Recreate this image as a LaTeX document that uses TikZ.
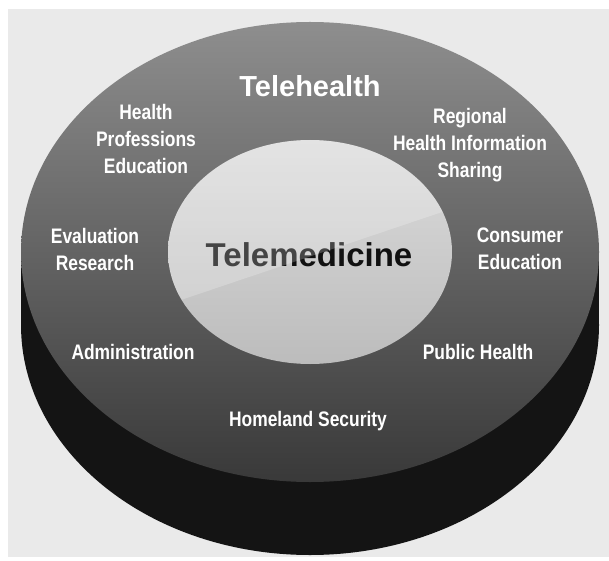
\documentclass[tikz,border=0pt]{standalone}
\usepackage{fontspec}
\setmainfont{Liberation Sans}
\newfontfamily\narrowsans[FakeStretch=0.83]{Liberation Sans}
\definecolor{paper}{HTML}{EAEAEA}
\definecolor{rimtop}{HTML}{8E8E8E}
\definecolor{rimmid}{HTML}{565656}
\definecolor{rimbot}{HTML}{393939}
\definecolor{side}{HTML}{141414}
\definecolor{coretop}{HTML}{DCDCDC}
\definecolor{corebot}{HTML}{BCBCBC}
\definecolor{ink}{HTML}{111111}

\begin{document}
\begin{tikzpicture}[x=1pt,y=1pt,
    ringlabel/.style={text=white,align=center,
      font=\narrowsans\bfseries\fontsize{21}{27}\selectfont}]
  \useasboundingbox (0,0) rectangle (609,560);
  \fill[paper] (8,3) rectangle (609,551);

  % side of the disc
  \fill[side] (310,235) ellipse [x radius=289,y radius=230];
  \fill[side] (21,235) rectangle (599,308);
  % top of the disc
  \shade[top color=rimtop,middle color=rimmid,bottom color=rimbot]
    (310,308) ellipse [x radius=289,y radius=230];

  % core
  \shade[top color=coretop,bottom color=corebot]
    (310,308) ellipse [x radius=142,y radius=112];
  \node[text=ink,font=\bfseries\fontsize{33}{33}\selectfont] (telemed) at (309,305)
    {Telemedicine};
  \begin{scope}
    \clip (310,308) ellipse [x radius=142,y radius=112];
    \fill[white,opacity=0.22] (160,253) -- (460,354) -- (460,430) -- (160,430) -- cycle;
  \end{scope}

  \node[text=white,font=\bfseries\fontsize{29}{29}\selectfont] (telehealth) at (310,474)
    {Telehealth};
  \node[ringlabel] (hpe) at (146,421) {Health\\Professions\\Education};
  \node[ringlabel] (rhis) at (470,415) {Regional\\Health Information\\Sharing};
  \node[ringlabel] (evalres) at (95,311) {Evaluation\\Research};
  \node[ringlabel] (consumer) at (520,311) {Consumer\\Education};
  \node[ringlabel] (admin) at (133,208) {Administration};
  \node[ringlabel] (pubhealth) at (478,208) {Public Health};
  \node[ringlabel] (homeland) at (308,139) {Homeland Security};
\end{tikzpicture}
\end{document}
